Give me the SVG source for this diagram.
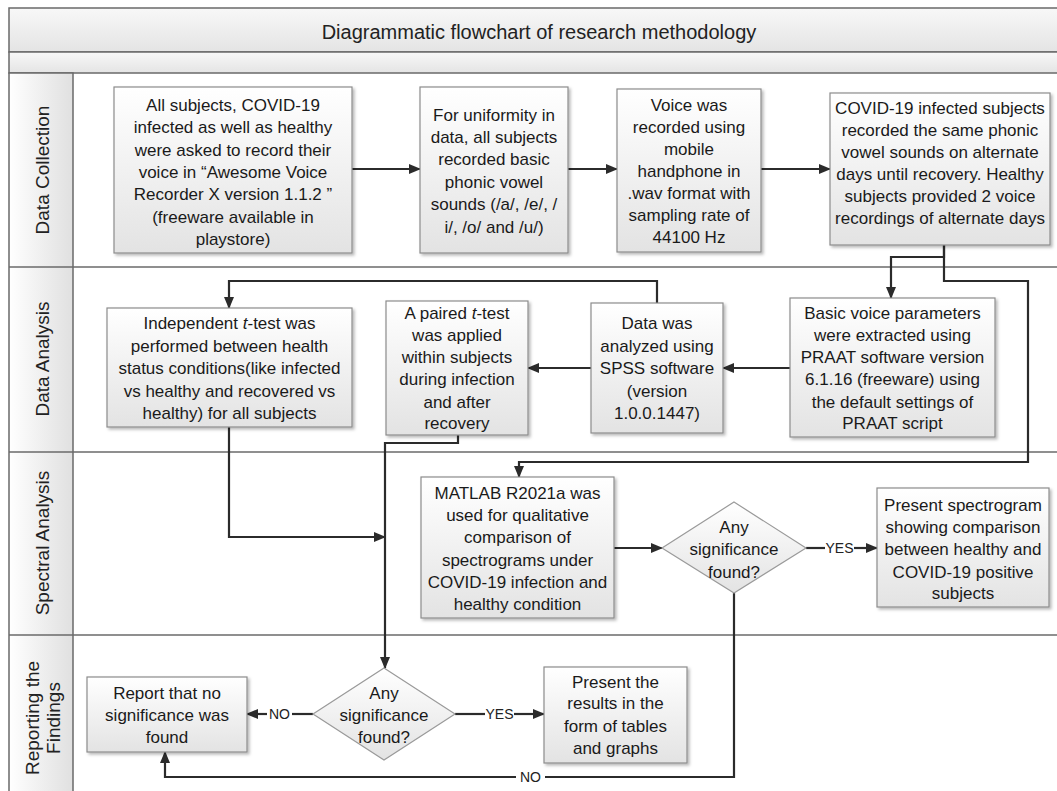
<svg xmlns="http://www.w3.org/2000/svg" width="1057" height="791" viewBox="0 0 1057 791">
<defs>
<linearGradient id="gBand" x1="0" y1="0" x2="0" y2="1"><stop offset="0" stop-color="#f8f8f8"/><stop offset="1" stop-color="#e4e4e4"/></linearGradient>
<linearGradient id="gCol" x1="0" y1="0" x2="1" y2="0"><stop offset="0" stop-color="#ffffff"/><stop offset="1" stop-color="#e0e0e0"/></linearGradient>
<linearGradient id="gBox" x1="0" y1="0" x2="0" y2="1"><stop offset="0" stop-color="#ffffff"/><stop offset="1" stop-color="#e3e3e3"/></linearGradient>
<filter id="sh" x="-10%" y="-10%" width="120%" height="120%"><feDropShadow dx="2" dy="2" stdDeviation="1.5" flood-color="#000" flood-opacity="0.28"/></filter>
<marker id="ar" markerUnits="userSpaceOnUse" markerWidth="12" markerHeight="10" refX="11" refY="5" orient="auto"><path d="M0,0 L12,5 L0,10 z" fill="#2b2b2b"/></marker>
<style>
.ln{stroke:#6a6a6a;stroke-width:1.5;fill:none}
.box{fill:url(#gBox);stroke:#8c8c8c;stroke-width:1.2;filter:url(#sh)}
.dia{fill:url(#gBox);stroke:#9a9a9a;stroke-width:1.2}
.t{font-family:"Liberation Sans",Arial,sans-serif;font-size:17px;fill:#1a1a1a;text-anchor:middle}
.lt{font-family:"Liberation Sans",Arial,sans-serif;font-size:19px;fill:#222;text-anchor:middle}
.tt{font-family:"Liberation Sans",Arial,sans-serif;font-size:20px;fill:#222;text-anchor:middle}
.lb{font-family:"Liberation Sans",Arial,sans-serif;font-size:14px;fill:#222;text-anchor:middle}
.c{stroke:#2b2b2b;stroke-width:2.2;fill:none}
.i{font-style:italic}
</style>
</defs>

<g id="frame">
<rect x="9" y="8" width="1060" height="44" fill="url(#gBand)" class="ln" style="fill:url(#gBand)"/>
<rect x="9" y="52" width="1060" height="21" style="fill:url(#gBand)" class="ln"/>
<rect x="9" y="73" width="64" height="730" style="fill:url(#gCol)" class="ln"/>
<line x1="73" y1="267" x2="1060" y2="267" class="ln"/>
<line x1="73" y1="452" x2="1060" y2="452" class="ln"/>
<line x1="73" y1="635" x2="1060" y2="635" class="ln"/>
<line x1="9" y1="267" x2="73" y2="267" class="ln"/>
<line x1="9" y1="452" x2="73" y2="452" class="ln"/>
<line x1="9" y1="635" x2="73" y2="635" class="ln"/>
<text class="tt" x="539" y="39">Diagrammatic flowchart of research methodology</text>
<text class="lt" transform="translate(49,170) rotate(-90)">Data Collection</text>
<text class="lt" transform="translate(49,359) rotate(-90)">Data Analysis</text>
<text class="lt" transform="translate(49,543) rotate(-90)">Spectral Analysis</text>
<text class="lt" transform="translate(39,718) rotate(-90)">Reporting the</text>
<text class="lt" transform="translate(60,718) rotate(-90)">Findings</text>
</g>

<g id="connectors">
<path class="c" d="M352,169 H420" marker-end="url(#ar)"/>
<path class="c" d="M568,169 H617" marker-end="url(#ar)"/>
<path class="c" d="M761,169 H830" marker-end="url(#ar)"/>
<path class="c" d="M944,245 V257 H891 V298" marker-end="url(#ar)"/>
<path class="c" d="M944,245 V281 H1028 V462 H519 V477" marker-end="url(#ar)"/>
<path class="c" d="M790,368 H723" marker-end="url(#ar)"/>
<path class="c" d="M591,368 H528" marker-end="url(#ar)"/>
<path class="c" d="M657,303 V281 H229 V308" marker-end="url(#ar)"/>
<path class="c" d="M229,427 V537 H385" marker-end="url(#ar)"/>
<path class="c" d="M458,435 V443 H385 V668" marker-end="url(#ar)"/>
<path class="c" d="M614,548 H662" marker-end="url(#ar)"/>
<path class="c" d="M806,548 H825"/>
<path class="c" d="M854,548 H877" marker-end="url(#ar)"/>
<text class="lb" x="839.5" y="553">YES</text>
<path class="c" d="M734,593 V777 H545"/>
<path class="c" d="M516,777 H165 V752" marker-end="url(#ar)"/>
<text class="lb" x="530.5" y="782">NO</text>
<path class="c" d="M313,714 H292"/>
<path class="c" d="M267,714 H247" marker-end="url(#ar)"/>
<text class="lb" x="279.5" y="719">NO</text>
<path class="c" d="M455,714 H485"/>
<path class="c" d="M514,714 H544" marker-end="url(#ar)"/>
<text class="lb" x="499.5" y="719">YES</text>
</g>

<g id="n1">
<rect class="box" x="114" y="87" width="238" height="166"/>
<text class="t" x="233" y="111">All subjects, COVID-19</text>
<text class="t" x="233" y="133">infected as well as healthy</text>
<text class="t" x="233" y="156">were asked to record their</text>
<text class="t" x="233" y="178">voice in &#8220;Awesome Voice</text>
<text class="t" x="233" y="200">Recorder X version 1.1.2 &#8221;</text>
<text class="t" x="233" y="223">(freeware available in</text>
<text class="t" x="233" y="245">playstore)</text>
</g>
<g id="n2">
<rect class="box" x="420" y="87" width="148" height="166"/>
<text class="t" x="494" y="121">For uniformity in</text>
<text class="t" x="494" y="143">data, all subjects</text>
<text class="t" x="494" y="165">recorded basic</text>
<text class="t" x="494" y="188">phonic vowel</text>
<text class="t" x="494" y="210">sounds (/a/, /e/, /</text>
<text class="t" x="494" y="233">i/, /o/ and /u/)</text>
</g>
<g id="n3">
<rect class="box" x="617" y="89" width="144" height="163"/>
<text class="t" x="689" y="111">Voice was</text>
<text class="t" x="689" y="133">recorded using</text>
<text class="t" x="689" y="155">mobile</text>
<text class="t" x="689" y="177">handphone in</text>
<text class="t" x="689" y="199">.wav format with</text>
<text class="t" x="689" y="221">sampling rate of</text>
<text class="t" x="689" y="243">44100 Hz</text>
</g>
<g id="n4">
<rect class="box" x="830" y="93" width="220" height="152"/>
<text class="t" x="940" y="114">COVID-19 infected subjects</text>
<text class="t" x="940" y="136">recorded the same phonic</text>
<text class="t" x="940" y="158">vowel sounds on alternate</text>
<text class="t" x="940" y="180">days until recovery. Healthy</text>
<text class="t" x="940" y="202">subjects provided 2 voice</text>
<text class="t" x="940" y="224">recordings of alternate days</text>
</g>
<g id="n5">
<rect class="box" x="790" y="298" width="205" height="139"/>
<text class="t" x="892.5" y="319">Basic voice parameters</text>
<text class="t" x="892.5" y="341">were extracted using</text>
<text class="t" x="892.5" y="363">PRAAT software version</text>
<text class="t" x="892.5" y="385">6.1.16 (freeware) using</text>
<text class="t" x="892.5" y="408">the default settings of</text>
<text class="t" x="892.5" y="429">PRAAT script</text>
</g>
<g id="n6">
<rect class="box" x="591" y="303" width="132" height="130"/>
<text class="t" x="657" y="329">Data was</text>
<text class="t" x="657" y="352">analyzed using</text>
<text class="t" x="657" y="374">SPSS software</text>
<text class="t" x="657" y="397">(version</text>
<text class="t" x="657" y="419">1.0.0.1447)</text>
</g>
<g id="n7">
<rect class="box" x="386" y="301" width="142" height="134"/>
<text class="t" x="457" y="319">A paired <tspan class="i">t</tspan>-test</text>
<text class="t" x="457" y="341">was applied</text>
<text class="t" x="457" y="363">within subjects</text>
<text class="t" x="457" y="385">during infection</text>
<text class="t" x="457" y="408">and after</text>
<text class="t" x="457" y="429">recovery</text>
</g>
<g id="n8">
<rect class="box" x="107" y="308" width="245" height="119"/>
<text class="t" x="229.5" y="329">Independent <tspan class="i">t</tspan>-test was</text>
<text class="t" x="229.5" y="352">performed between health</text>
<text class="t" x="229.5" y="374">status conditions(like infected</text>
<text class="t" x="229.5" y="397">vs healthy and recovered vs</text>
<text class="t" x="229.5" y="419">healthy) for all subjects</text>
</g>
<g id="n9">
<rect class="box" x="421" y="477" width="193" height="141"/>
<text class="t" x="517.5" y="499">MATLAB R2021a was</text>
<text class="t" x="517.5" y="521">used for qualitative</text>
<text class="t" x="517.5" y="543">comparison of</text>
<text class="t" x="517.5" y="566">spectrograms under</text>
<text class="t" x="517.5" y="588">COVID-19 infection and</text>
<text class="t" x="517.5" y="610">healthy condition</text>
</g>
<g id="n10">
<polygon class="dia" points="734,502 806,548 734,593 662,548"/>
<text class="t" x="734" y="533">Any</text>
<text class="t" x="734" y="555">significance</text>
<text class="t" x="734" y="578">found?</text>
</g>
<g id="n11">
<rect class="box" x="877" y="488" width="172" height="119"/>
<text class="t" x="963" y="511">Present spectrogram</text>
<text class="t" x="963" y="533">showing comparison</text>
<text class="t" x="963" y="555">between healthy and</text>
<text class="t" x="963" y="578">COVID-19 positive</text>
<text class="t" x="963" y="599">subjects</text>
</g>
<g id="n12">
<rect class="box" x="87" y="677" width="160" height="75"/>
<text class="t" x="167" y="699">Report that no</text>
<text class="t" x="167" y="721">significance was</text>
<text class="t" x="167" y="743">found</text>
</g>
<g id="n13">
<polygon class="dia" points="384,668 455,714 384,760 313,714"/>
<text class="t" x="384" y="699">Any</text>
<text class="t" x="384" y="721">significance</text>
<text class="t" x="384" y="743">found?</text>
</g>
<g id="n14">
<rect class="box" x="544" y="667" width="143" height="96"/>
<text class="t" x="615.5" y="688">Present the</text>
<text class="t" x="615.5" y="709">results in the</text>
<text class="t" x="615.5" y="732">form of tables</text>
<text class="t" x="615.5" y="754">and graphs</text>
</g>
</svg>
